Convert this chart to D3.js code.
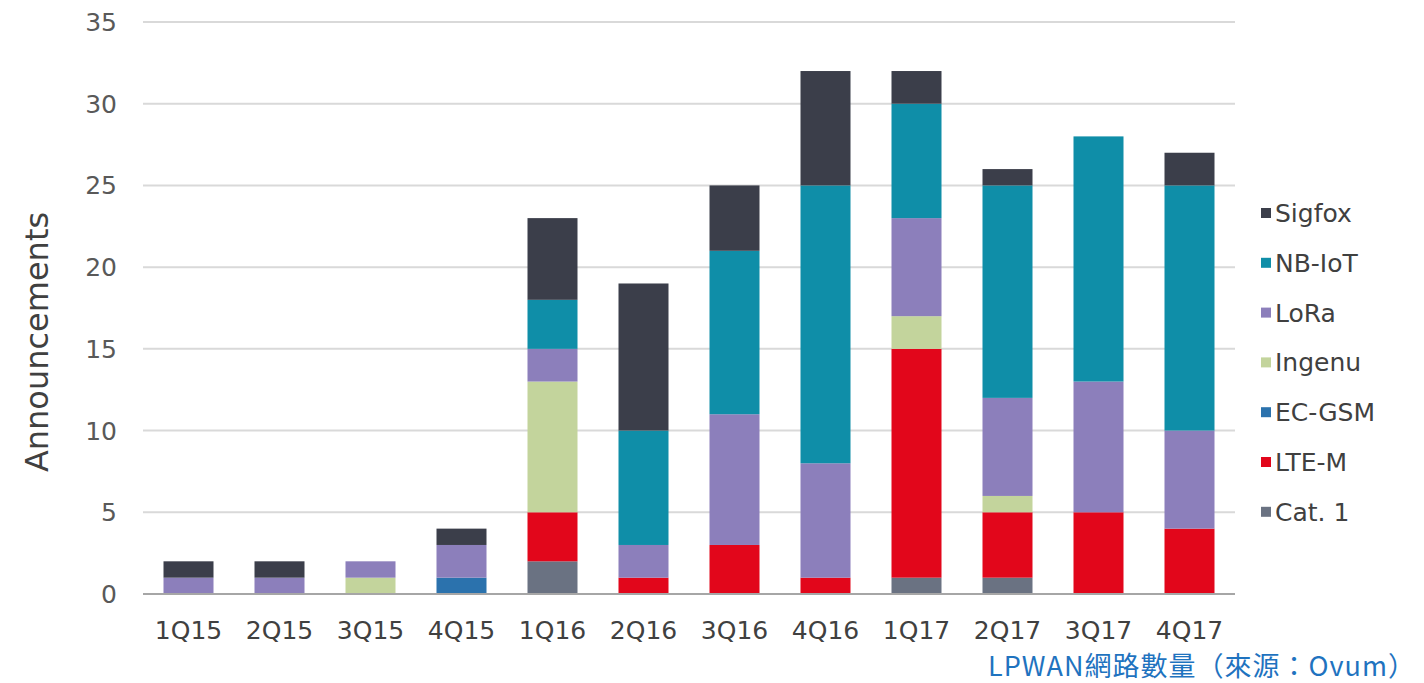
<!DOCTYPE html>
<html><head><meta charset="utf-8">
<script src="https://cdn.jsdelivr.net/npm/d3@7"></script>
<style>body{margin:0;background:#fff}svg{display:block}</style>
</head><body><svg id="c" width="1424" height="683"></svg>
<script>
const categories = ["1Q15","2Q15","3Q15","4Q15","1Q16","2Q16","3Q16","4Q16","1Q17","2Q17","3Q17","4Q17"];
const seriesNames = ["Cat. 1","LTE-M","EC-GSM","Ingenu","LoRa","NB-IoT","Sigfox"];
const cat1   = [0,0,0,0,2,0,0,0,1,1,0,0];
const lteM   = [0,0,0,0,3,1,3,1,14,4,5,4];
const ecGsm  = [0,0,0,1,0,0,0,0,0,0,0,0];
const ingenu = [0,0,1,0,8,0,0,0,2,1,0,0];
const lora   = [1,1,1,2,2,2,8,7,6,6,8,6];
const nbIot  = [0,0,0,0,3,7,10,17,7,13,15,15];
const sigfox = [1,1,0,1,5,9,4,7,2,1,0,2];
const yTicks = [0,5,10,15,20,25,30,35];
const colors = ["#6a7282","#e2061b","#2b72ad","#c3d49c","#8c7fbb","#0f8ea8","#3b3e4a"];

const seriesVals = [cat1,lteM,ecGsm,ingenu,lora,nbIot,sigfox];
const rows = categories.map((c,i)=>{const r={cat:c}; seriesNames.forEach((s,j)=>r[s]=seriesVals[j][i]); return r;});
const stack = d3.stack().keys(seriesNames)(rows);

const FONT = "DejaVu Sans, Verdana, sans-serif";
const svg = d3.select("#c");
const x = d3.scaleBand().domain(categories).range([143,1235]);
const y = d3.scaleLinear().domain([0,35]).range([594,22]);
const bw = 50;

// gridlines
svg.append("g").selectAll("line").data(yTicks.filter(d=>d>0)).join("line")
  .attr("x1",143).attr("x2",1235).attr("y1",d=>y(d)).attr("y2",d=>y(d))
  .attr("stroke","#d9d9d9").attr("stroke-width",2);

// bars
svg.append("g").selectAll("g").data(stack).join("g")
  .attr("fill",(d,i)=>colors[i])
  .selectAll("rect").data(d=>d).join("rect")
  .attr("x",d=>x(d.data.cat)+x.bandwidth()/2-bw/2)
  .attr("width",bw)
  .attr("y",d=>y(d[1]))
  .attr("height",d=>Math.max(0,y(d[0])-y(d[1])));

// baseline
svg.append("line").attr("x1",143).attr("x2",1235).attr("y1",y(0)).attr("y2",y(0))
  .attr("stroke","#a6a6a6").attr("stroke-width",2);

// y axis labels
svg.append("g").selectAll("text").data(yTicks).join("text")
  .attr("x",117).attr("y",d=>y(d)).attr("dy","0.36em").attr("text-anchor","end")
  .attr("font-family",FONT).attr("font-size",25)
  .attr("fill","#595959").text(d=>d);

// x labels
svg.append("g").selectAll("text").data(categories).join("text")
  .attr("x",d=>x(d)+x.bandwidth()/2).attr("y",630).attr("dy","0.36em").attr("text-anchor","middle")
  .attr("font-family",FONT).attr("font-size",25)
  .attr("fill","#404040").text(d=>d);

// y title
svg.append("text").attr("transform","translate(36,342) rotate(-90)").attr("text-anchor","middle")
  .attr("dy","0.36em")
  .attr("font-family",FONT).attr("font-size",32)
  .attr("fill","#404040").text("Announcements");

// legend (top-down: Sigfox first)
const legendOrder = seriesNames.map((s,i)=>({s,c:colors[i]})).reverse();
const lg = svg.append("g").selectAll("g").data(legendOrder).join("g")
  .attr("transform",(d,i)=>`translate(1261,${213+i*49.8})`);
lg.append("rect").attr("x",0).attr("y",-5).attr("width",10).attr("height",10).attr("fill",d=>d.c);
lg.append("text").attr("x",14).attr("dy","0.36em")
  .attr("font-family",FONT).attr("font-size",25)
  .attr("fill","#404040").text(d=>d.s);

// caption
svg.append("text").attr("x",1416).attr("y",666).attr("dy","0.36em").attr("text-anchor","end")
  .attr("font-family","Noto Sans CJK TC, DejaVu Sans, sans-serif").attr("font-size",27)
  .attr("letter-spacing",1)
  .attr("fill","#1f73bf").text("LPWAN網路數量（來源：Ovum）");
</script></body></html>
